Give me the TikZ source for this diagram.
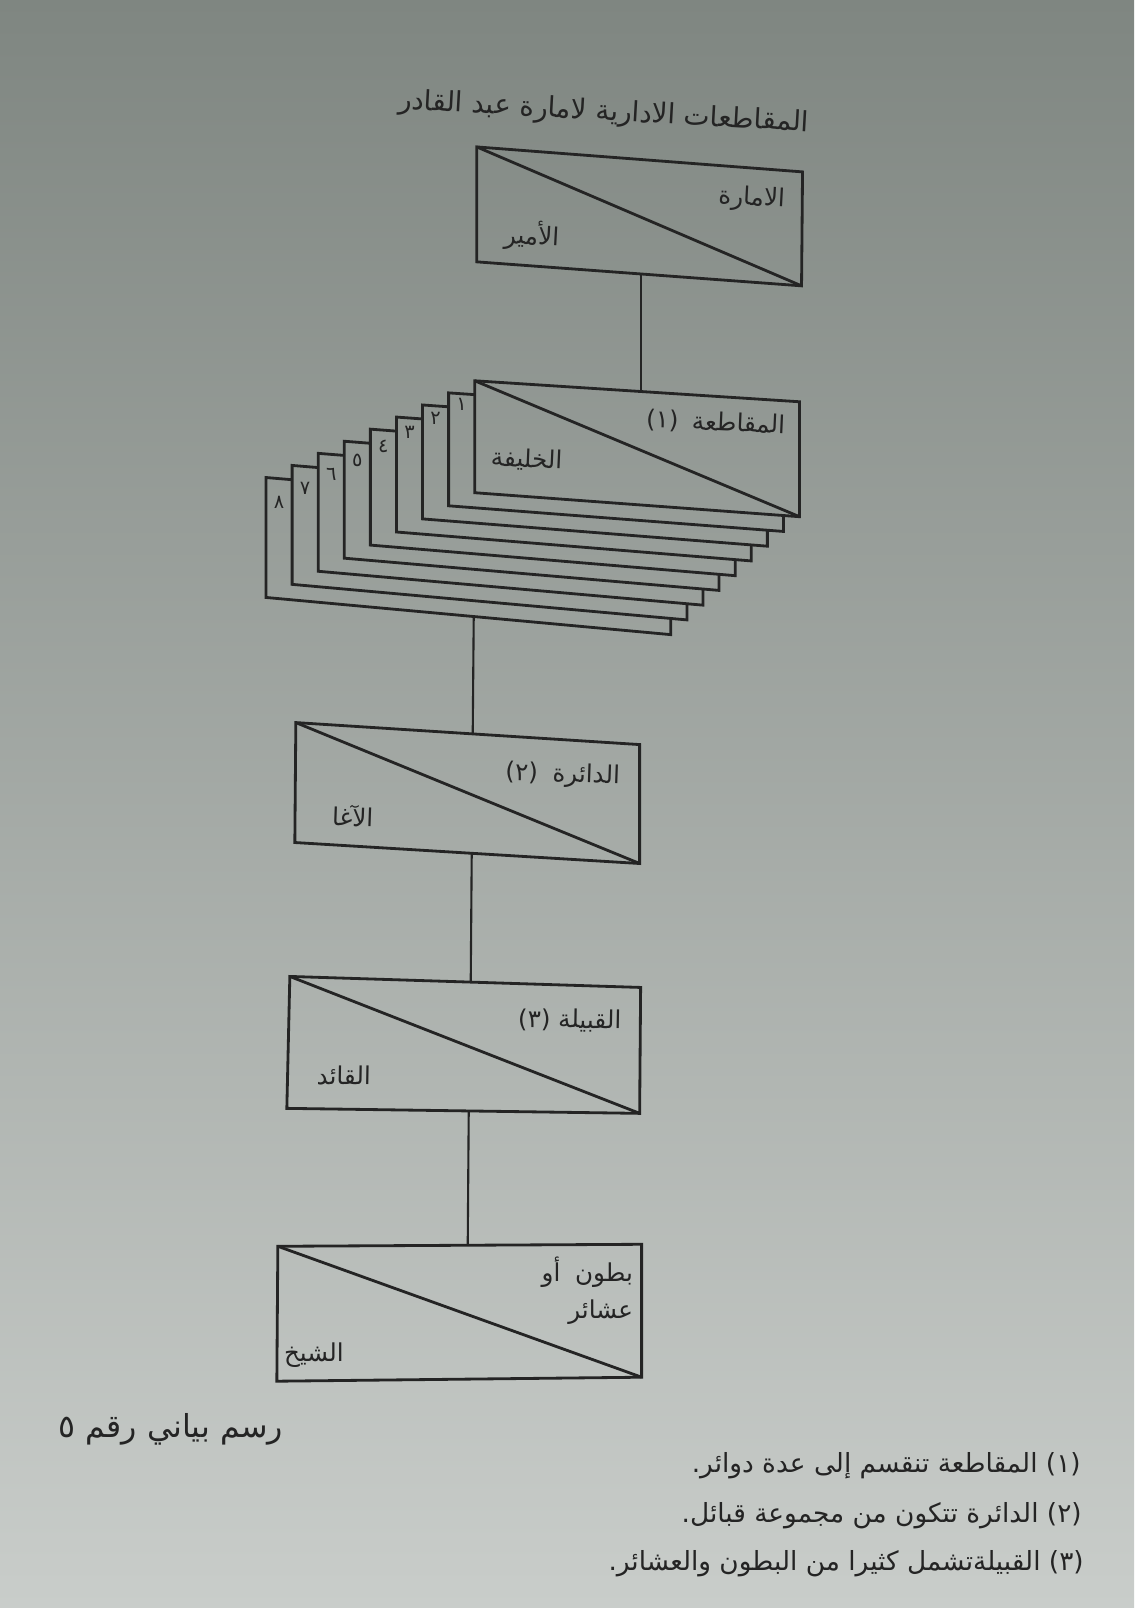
\documentclass[tikz,border=0pt]{standalone}
\usepackage{fontspec}
\newfontfamily\arabicfont[Script=Arabic]{DejaVu Sans}
\TeXXeTstate=1
\usetikzlibrary{calc}
\newcommand{\ar}[1]{{\arabicfont\beginR #1\endR}}
\definecolor{ink}{HTML}{242424}
\definecolor{papertop}{HTML}{7F8681}
\definecolor{papermid}{HTML}{AAAFAB}
\definecolor{paperbot}{HTML}{C9CDCA}
\begin{document}
\begin{tikzpicture}[x=0.01cm,y=-0.01cm,
  boxline/.style={draw=ink,line width=0.8pt,line join=miter},
  conn/.style={draw=ink,line width=0.6pt},
  lab/.style={inner sep=0pt,text=ink,font=\arabicfont\fontsize{7}{8}\selectfont},
  tab/.style={inner sep=0pt,text=ink,font=\arabicfont\fontsize{5.5}{6}\selectfont},
  ttl/.style={inner sep=0pt,text=ink,font=\arabicfont\fontsize{7.9}{9}\selectfont},
  note/.style={inner sep=0pt,text=ink,anchor=east,font=\arabicfont\fontsize{7.5}{9}\selectfont}]
\useasboundingbox (0cm,0cm) rectangle (11.34cm,-16.08cm);
\fill[top color=papertop,middle color=papermid,bottom color=paperbot] (0cm,0cm) rectangle (11.34cm,-16.08cm);

% title
\node[ttl,rotate=-3.2] (title) at (604,113) {\ar{المقاطعات الادارية لامارة عبد القادر}};

% box 1
\coordinate (b1-tl) at (477,147);
\coordinate (b1-tr) at (803,172);
\coordinate (b1-br) at (802,286);
\coordinate (b1-bl) at (477,262);
\draw[boxline] (b1-tl) -- (b1-tr) -- (b1-br) -- (b1-bl) -- cycle;
\draw[boxline] (b1-tl) -- (b1-br);
\node[lab,rotate=-3] (imara) at (752,199) {\ar{الامارة}};
\node[lab,rotate=-3] (amir) at (532,236) {\ar{الأمير}};

% stack of muqata'a boxes
\foreach \k in {0,...,8} {
  \pgfmathsetmacro\xl{475-26.1*\k}
  \pgfmathsetmacro\xr{800-16.1*\k}
  \pgfmathsetmacro\ytl{381+12.1*\k}
  \pgfmathsetmacro\ytr{402+13.75*\k}
  \pgfmathsetmacro\ybr{517+14.75*\k}
  \pgfmathsetmacro\ybl{493+13.1*\k}
  \coordinate (s\k-tl) at (\xl,\ytl);
  \coordinate (s\k-tr) at (\xr,\ytr);
  \coordinate (s\k-br) at (\xr,\ybr);
  \coordinate (s\k-bl) at (\xl,\ybl);
}
\foreach \k/\d in {8/٨,7/٧,6/٦,5/٥,4/٤,3/٣,2/٢,1/١} {
  \pgfmathtruncatemacro\j{\k-1}
  \begin{scope}
    \clip (0,0) -- (1134,0) -- (1134,1608) -- (0,1608) -- cycle
          (s\j-tl) -- (s\j-bl) -- (s\j-br) -- (s\j-tr) -- cycle;
    \draw[boxline] (s\k-tl) -- (s\k-tr) -- (s\k-br) -- (s\k-bl) -- cycle;
  \end{scope}
  \pgfmathsetmacro\tx{488.05-26.1*\k}
  \pgfmathsetmacro\ty{391+13.9*\k}
  \node[tab] (t\k) at (\tx,\ty) {\ar{\d}};
}
\draw[boxline] (s0-tl) -- (s0-tr) -- (s0-br) -- (s0-bl) -- cycle;
\draw[boxline] (s0-tl) -- (s0-br);
\node[lab,rotate=-2.5] (muq) at (716,423) {\ar{المقاطعة\hspace{0.55em}(١)}};
\node[lab,rotate=-2.5] (khal) at (527,460) {\ar{الخليفة}};

% box 2
\coordinate (b2-tl) at (296,723);
\coordinate (b2-tr) at (640,745);
\coordinate (b2-br) at (640,864);
\coordinate (b2-bl) at (295,843);
\draw[boxline] (b2-tl) -- (b2-tr) -- (b2-br) -- (b2-bl) -- cycle;
\draw[boxline] (b2-tl) -- (b2-br);
\node[lab,rotate=-2] (daira) at (563,776) {\ar{الدائرة\hspace{0.6em}(٢)}};
\node[lab,rotate=-2] (agha) at (353,816) {\ar{الآغا}};

% box 3
\coordinate (b3-tl) at (290,977);
\coordinate (b3-tr) at (641,988);
\coordinate (b3-br) at (640,1114);
\coordinate (b3-bl) at (287,1109);
\draw[boxline] (b3-tl) -- (b3-tr) -- (b3-br) -- (b3-bl) -- cycle;
\draw[boxline] (b3-tl) -- (b3-br);
\node[lab,rotate=-1] (qabila) at (570,1021) {\ar{القبيلة (٣)}};
\node[lab,rotate=-1] (qaid) at (344,1076) {\ar{القائد}};

% box 4
\coordinate (b4-tl) at (278,1247);
\coordinate (b4-tr) at (642,1245);
\coordinate (b4-br) at (642,1378);
\coordinate (b4-bl) at (277,1382);
\draw[boxline] (b4-tl) -- (b4-tr) -- (b4-br) -- (b4-bl) -- cycle;
\draw[boxline] (b4-tl) -- (b4-br);
\node[lab,anchor=east] (butun) at (634,1273) {\ar{بطون\hspace{0.6em}أو}};
\node[lab,anchor=east] (ashair) at (634,1313) {\ar{عشائر}};
\node[lab] (shaykh) at (314,1356) {\ar{الشيخ}};

% connectors
\coordinate (c1a) at (641,274);
\coordinate (c1b) at (641,392);
\coordinate (c2a) at (474,617);
\coordinate (c2b) at (473,734);
\coordinate (c3a) at (472,854);
\coordinate (c3b) at (471,983);
\coordinate (c4a) at (469,1112);
\coordinate (c4b) at (468,1246);
\draw[conn] (c1a) -- (c1b);
\draw[conn] (c2a) -- (c2b);
\draw[conn] (c3a) -- (c3b);
\draw[conn] (c4a) -- (c4b);

% caption and notes
\node[note,font=\arabicfont\fontsize{9}{10}\selectfont] (caption) at (284,1430) {\ar{رسم بياني رقم ٥}};
\node[note] (n1) at (1082,1467) {\ar{(١) المقاطعة تنقسم إلى عدة دوائر.}};
\node[note] (n2) at (1083,1517) {\ar{(٢) الدائرة تتكون من مجموعة قبائل.}};
\node[note] (n3) at (1085,1565) {\ar{(٣) القبيلةتشمل كثيرا من البطون والعشائر.}};
\end{tikzpicture}
\end{document}
